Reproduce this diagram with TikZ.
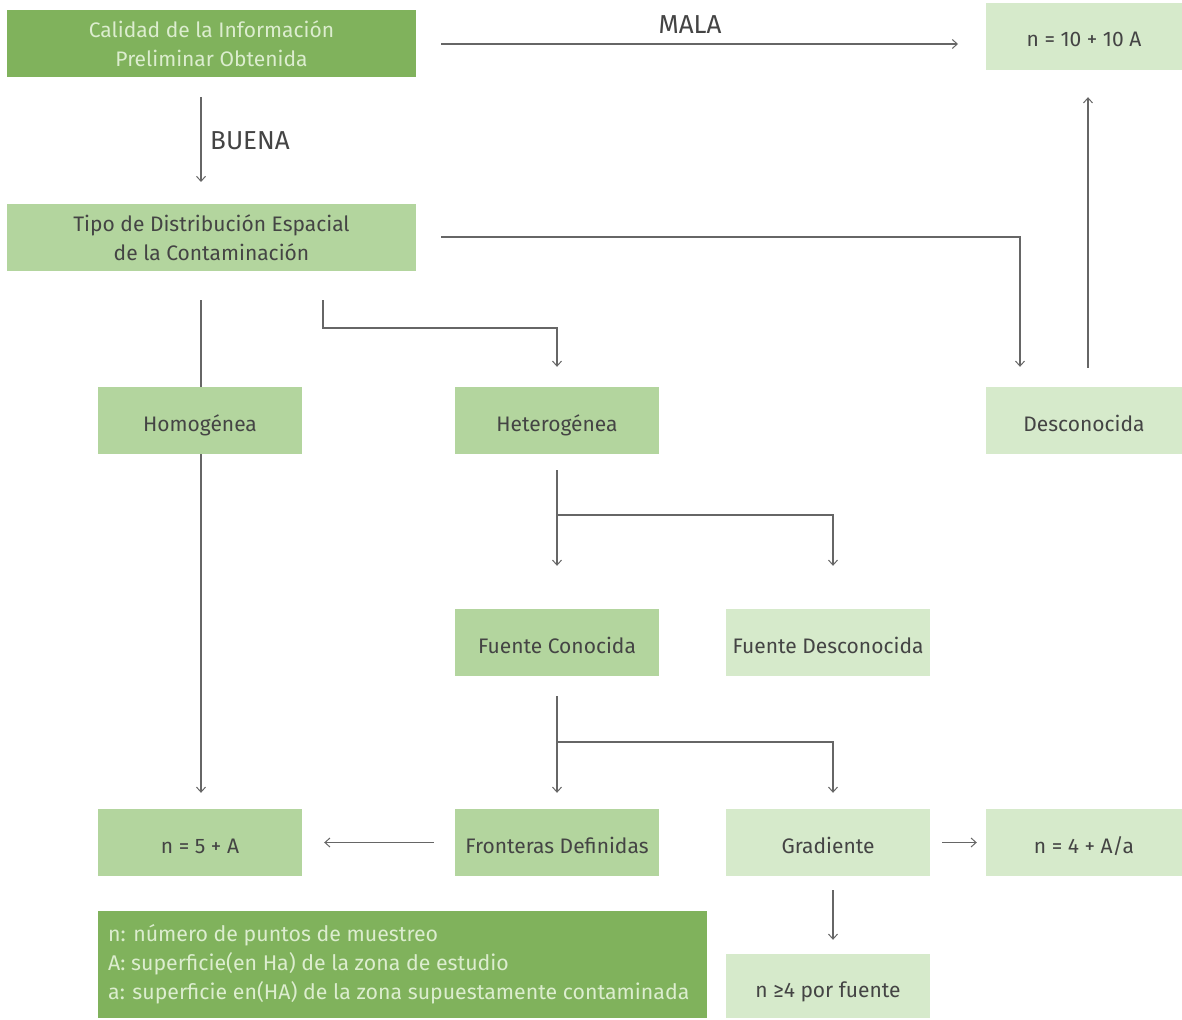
\documentclass[tikz,border=0pt]{standalone}
\usepackage{fontspec}
\setmainfont{Fira Sans}
\usetikzlibrary{arrows.meta,backgrounds}
\definecolor{gdark}{HTML}{80B25C}
\definecolor{gmed}{HTML}{B3D59E}
\definecolor{glight}{HTML}{D6EACB}
\definecolor{txt}{HTML}{444444}
\definecolor{txtlight}{HTML}{DCEDCF}
\definecolor{ln}{HTML}{666666}
\tikzset{
  box/.style={inner sep=0pt, align=center, text=txt,
    font=\fontsize{21}{29}\selectfont},
  one/.style={text height=23pt, text depth=2pt},
  boxA/.style={box, minimum width=409pt, minimum height=67pt},
  boxB/.style={box, one, minimum width=204pt, minimum height=67pt},
  boxC/.style={box, one, minimum width=196pt, minimum height=67pt},
  dark/.style={fill=gdark, text=txtlight},
  med/.style={fill=gmed},
  light/.style={fill=glight},
  arr/.style={draw=ln, line width=1.2pt, -{Straight Barb[length=5pt,width=9pt,line width=1pt]}},
  lbl/.style={text=txt, font=\fontsize{26}{30}\selectfont, inner sep=0pt},
}
\begin{document}
\begin{tikzpicture}[x=1pt,y=-1pt]
\useasboundingbox (0,0) rectangle (1182,1019);
\node[boxA,dark] (cal) at (211.5,43.5) {Calidad de la Información\\Preliminar Obtenida};
\node[boxC,light] (n10) at (1084,36.5) {n = 10 + 10 A};
\node[boxA,med] (tipo) at (211.5,237.5) {Tipo de Distribución Espacial\\de la Contaminación};
\node[boxB,med] (hom) at (200,420.5) {Homogénea};
\node[boxB,med] (het) at (557,420.5) {Heterogénea};
\node[boxC,light] (desc) at (1084,420.5) {Desconocida};
\node[boxB,med] (fc) at (557,642.5) {Fuente Conocida};
\node[boxB,light] (fd) at (828,642.5) {Fuente Desconocida};
\node[boxB,med] (n5) at (200,842.5) {n = 5 + A};
\node[boxB,med] (fr) at (557,842.5) {Fronteras Definidas};
\node[boxB,light] (gr) at (828,842.5) {Gradiente};
\node[boxC,light] (n4) at (1084,842.5) {n = 4 + A/a};
\node[box,dark,minimum width=609pt,minimum height=107pt] (leg) at (402.5,964.5) {};
\node[anchor=north west, inner sep=0pt, align=left, text=txtlight,
  font=\fontsize{21.3}{29}\selectfont] (legt) at (108,924) {n: número de puntos de muestreo\\A: superficie(en Ha) de la zona de estudio\\a: superficie en(HA) de la zona supuestamente contaminada};
\node[boxB,light,minimum height=64pt,text height=24pt,text depth=1pt] (ng) at (828,986) {n ≥4 por fuente};

\coordinate (c1) at (441,44);
\coordinate (c1e) at (958,44);
\node[lbl] (mala) at (690,25) {MALA};
\node[lbl] (buena) at (250,141) {BUENA};
\coordinate (b1) at (201,97);
\coordinate (b1e) at (201,182);
\begin{scope}[on background layer]
\draw[arr] (c1) -- (c1e);
\draw[arr] (b1) -- (b1e);
\draw[arr] (441,237) -| ([xshift=-64pt,yshift=20pt]desc.north);
\draw[arr] ([xshift=111.5pt,yshift=-29pt]tipo.south) |- (557,328) -- ([yshift=20pt]het.north);
\draw[arr] ([xshift=-10.5pt,yshift=-29pt]tipo.south) -- ([xshift=1pt,yshift=16pt]n5.north);
\draw[arr] ([xshift=4pt,yshift=19pt]desc.north) -- ([xshift=4pt,yshift=-27pt]n10.south);
\draw[arr] ([yshift=-16pt]het.south) -- ([yshift=43pt]fc.north);
\draw[arr] (557,515) -| ([xshift=5pt,yshift=43pt]fd.north);
\draw[arr] ([yshift=-20pt]fc.south) -- ([yshift=16pt]fr.north);
\draw[arr] (557,742) -| ([xshift=5pt,yshift=16pt]gr.north);
\draw[arr] ([xshift=-21pt]fr.west) -- ([xshift=22pt]n5.east);
\draw[arr] ([xshift=12pt,yshift=0pt]gr.east) -- ([xshift=-9pt]n4.west);
\draw[arr] ([xshift=5pt,yshift=-14pt]gr.south) -- ([xshift=5pt,yshift=14pt]ng.north);
\end{scope}
\end{tikzpicture}
\end{document}
